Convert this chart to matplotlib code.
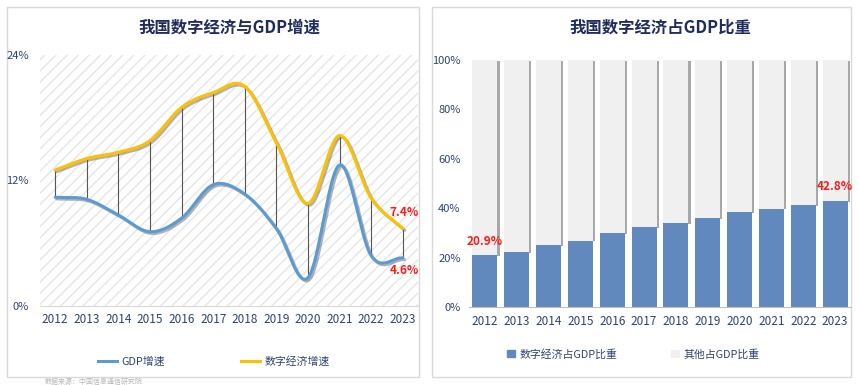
import numpy as np
import matplotlib.pyplot as plt
import matplotlib.patheffects as pe
from matplotlib.patches import Rectangle, Patch

plt.rcParams['font.family'] = ['Noto Sans CJK SC', 'DejaVu Sans']

# ============== DATA ==============
years = ['2012', '2013', '2014', '2015', '2016', '2017',
         '2018', '2019', '2020', '2021', '2022', '2023']
gdp_growth     = [10.4, 10.2, 8.7, 7.1, 8.4, 11.6, 10.7, 7.4, 2.7, 13.5, 4.8, 4.6]
digital_growth = [13.0, 14.1, 14.7, 15.8, 19.0, 20.4, 21.0, 15.6, 9.8, 16.3, 10.3, 7.4]
digital_share  = [20.9, 22.3, 24.9, 26.8, 30.0, 32.4, 33.9, 35.9, 38.5, 39.8, 41.3, 42.8]
other_share    = [100 - v for v in digital_share]

NAVY  = '#2E4373'
TITLE = '#1F2D5C'
BLUE_LINE = '#5B9BD5'
GOLD_LINE = '#FFC000'
BAR_BLUE  = '#6189BE'
BAR_GRAY  = '#F0F0F0'
RED = '#FF1A1A'


def smooth(y, n=20):
    # catmull-rom spline just for drawing the smoothed line
    y = np.asarray(y, float)
    p = np.concatenate([[2*y[0]-y[1]], y, [2*y[-1]-y[-2]]])
    xs, ys = [], []
    for i in range(len(y) - 1):
        p0, p1, p2, p3 = p[i], p[i+1], p[i+2], p[i+3]
        t = np.linspace(0, 1, n, endpoint=False)
        yy = 0.5*((2*p1) + (-p0+p2)*t + (2*p0-5*p1+4*p2-p3)*t**2 + (-p0+3*p1-3*p2+p3)*t**3)
        xs.append(i + t)
        ys.append(yy)
    xs.append([len(y)-1])
    ys.append([y[-1]])
    return np.concatenate(xs), np.concatenate(ys)


fig = plt.figure(figsize=(8.59, 3.85), dpi=100)
fig.patch.set_facecolor('white')

# panel frames
for x0, w in [(7/859, 412/859), (432/859, 419/859)]:
    fig.patches.append(Rectangle((x0, 8/385), w, 370/385, transform=fig.transFigure,
                                 facecolor='white', edgecolor='#D9D9D9', lw=1.0, zorder=0))

x = np.arange(len(years))

# ============== LEFT: growth lines ==============
ax1 = fig.add_axes([40/859, 79/385, 378/859, 251/385])
ax1.set_zorder(2)
ax1.patch.set_facecolor('white')
ax1.patch.set_hatch('///')
ax1.patch.set_edgecolor('#E6E6E6')
ax1.patch.set_linewidth(0)
ax1.set_xlim(-0.48, 11.48)
ax1.set_ylim(0, 24)

for i in x:
    ax1.plot([i, i], [gdp_growth[i], digital_growth[i]], color='#555555', lw=0.8, zorder=2)

shadow = [pe.SimpleLineShadow(offset=(1.2, -1.2), shadow_color='#666666', alpha=0.5), pe.Normal()]
sx, sy = smooth(gdp_growth)
ax1.plot(sx, sy, color=BLUE_LINE, lw=2.2, zorder=3, path_effects=shadow, solid_capstyle='round')
sx, sy = smooth(digital_growth)
ax1.plot(sx, sy, color=GOLD_LINE, lw=2.2, zorder=4, path_effects=shadow, solid_capstyle='round')

ax1.text(x[-1] + 0.05, digital_growth[-1] + 1.5, f'{digital_growth[-1]:.1f}%', color=RED,
         fontsize=8.5, fontweight='bold', ha='center', va='center', zorder=5)
ax1.text(x[-1] + 0.05, gdp_growth[-1] - 1.25, f'{gdp_growth[-1]:.1f}%', color=RED,
         fontsize=8.5, fontweight='bold', ha='center', va='center', zorder=5)

ax1.set_xticks(x)
ax1.set_xticklabels(years)
ax1.set_yticks([0, 12, 24])
ax1.set_yticklabels(['0%', '12%', '24%'])
ax1.tick_params(axis='both', length=0, colors=NAVY)
ax1.tick_params(axis='y', pad=8, labelsize=8)
ax1.tick_params(axis='x', pad=5, labelsize=8.5)
for s in ['top', 'right', 'left']:
    ax1.spines[s].set_visible(False)
ax1.spines['bottom'].set_color('#D9D9D9')
ax1.set_title('我国数字经济与GDP增速', fontsize=11.8, fontweight='bold', color=TITLE, pad=16)

leg1 = ax1.legend(handles=[plt.Line2D([], [], color=BLUE_LINE, lw=2.2),
                           plt.Line2D([], [], color=GOLD_LINE, lw=2.2)],
                  labels=['GDP增速', '数字经济增速'], loc='center', bbox_to_anchor=(0.46, -0.22),
                  ncol=2, frameon=False, fontsize=7.8, columnspacing=7, handlelength=1.8,
                  handletextpad=0.4)
for t in leg1.get_texts():
    t.set_color(NAVY)

# ============== RIGHT: share bars ==============
ax2 = fig.add_axes([469/859, 78/385, 382/859, 247/385])
ax2.set_zorder(2)
ax2.set_xlim(-0.5, 11.5)
ax2.set_ylim(0, 100)
ax2.bar(x, digital_share, width=0.79, color=BAR_BLUE, zorder=2)
ax2.bar(x, other_share, width=0.79, bottom=digital_share, color=BAR_GRAY, zorder=1,
        path_effects=[pe.SimplePatchShadow(offset=(1.5, -0.5), shadow_rgbFace='#A8A8A8', alpha=1.0),
                      pe.Normal()])

ax2.text(x[0], digital_share[0] + 5.6, f'{digital_share[0]:.1f}%', color=RED,
         fontsize=8.5, fontweight='bold', ha='center', va='center', zorder=5)
ax2.text(x[-1], digital_share[-1] + 5.8, f'{digital_share[-1]:.1f}%', color=RED,
         fontsize=8.5, fontweight='bold', ha='center', va='center', zorder=5)

ax2.set_xticks(x)
ax2.set_xticklabels(years)
ax2.set_yticks(np.arange(0, 101, 20))
ax2.set_yticklabels([f'{v}%' for v in range(0, 101, 20)])
ax2.tick_params(axis='both', length=0, colors=NAVY)
ax2.tick_params(axis='y', pad=6, labelsize=8)
ax2.tick_params(axis='x', pad=6, labelsize=8.5)
for s in ['top', 'right', 'left']:
    ax2.spines[s].set_visible(False)
ax2.spines['bottom'].set_color('#BFBFBF')
ax2.set_title('我国数字经济占GDP比重', fontsize=11.8, fontweight='bold', color=TITLE, pad=20)

leg2 = ax2.legend(handles=[Patch(color=BAR_BLUE), Patch(color=BAR_GRAY)],
                  labels=['数字经济占GDP比重', '其他占GDP比重'],
                  loc='center', bbox_to_anchor=(0.43, -0.19), ncol=2, frameon=False,
                  fontsize=7.8, columnspacing=5, handlelength=0.7, handleheight=0.7,
                  handletextpad=0.4)
for t in leg2.get_texts():
    t.set_color(NAVY)

# source note under the left panel
fig.text(45/859, 3.5/385, '数据来源：中国信息通信研究院', fontsize=5, color='#B8B8B8',
         ha='left', va='center')

fig.savefig('out.png', dpi=100)
